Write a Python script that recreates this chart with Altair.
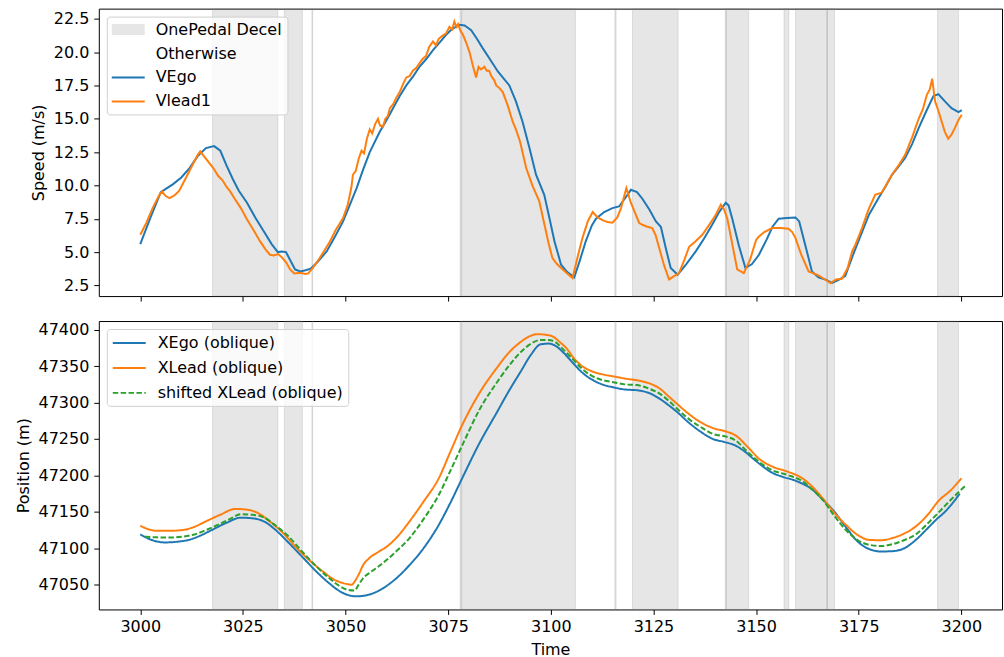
import altair as alt
import pandas as pd

# Windows flagged as one-pedal deceleration (s)
decel_start = [3017.6, 3035.1, 3041.8, 3077.9, 3078.3, 3115.6, 3119.9, 3142.5, 3142.8,
               3156.8, 3159.6, 3167.2, 3194.2]
decel_end = [3033.5, 3039.5, 3042.0, 3078.2, 3106.0, 3115.9, 3131.0, 3142.7, 3148.2,
             3158.0, 3167.4, 3169.1, 3199.3]

# Ego speed (m/s)
vego_t = [3000, 3002.5, 3005, 3006.5, 3008, 3010, 3012, 3014, 3016, 3018, 3019.5, 3021,
          3022.5, 3024, 3026, 3028, 3030, 3032, 3033.5, 3034.5, 3035.5, 3036.5, 3037.7,
          3039, 3040.5, 3041.5, 3043, 3045.4, 3047.5, 3049.4, 3051, 3052.7, 3054.3,
          3055.9, 3058.3, 3060, 3061.6, 3063.2, 3064.8, 3066.5, 3068, 3069.7, 3071.3,
          3073, 3074.5, 3076, 3077.8, 3079, 3080.6, 3082, 3083.4, 3085.1, 3087.1,
          3089.9, 3091.5, 3093.1, 3094.8, 3096.4, 3098.4, 3099.7, 3100.9, 3102.5, 3104,
          3105.7, 3107, 3108.5, 3110, 3111, 3113, 3115, 3116.6, 3118, 3119.5, 3121,
          3122.3, 3124, 3125.6, 3126.8, 3128, 3129.2, 3130.9, 3133, 3135.3, 3137.3,
          3139.3, 3141, 3142.6, 3143.3, 3144.2, 3145.8, 3147.4, 3149, 3150.7, 3152.5,
          3154, 3155.5, 3157.5, 3159.6, 3160.5, 3162, 3163.6, 3165.2, 3166.9, 3168.5,
          3170, 3171.7, 3173.5, 3175.8, 3177.5, 3179.8, 3181.5, 3183.1, 3184.7, 3186.3,
          3188, 3189.6, 3191.5, 3193.2, 3194.4, 3196, 3197.6, 3199.3, 3200.1]
vego_v = [5.6, 7.6, 9.5, 9.8, 10.1, 10.6, 11.3, 12.2, 12.8, 12.95, 12.6, 11.5,
          10.5, 9.6, 8.7, 7.6, 6.6, 5.6, 5.0, 5.05, 5.0, 4.4, 3.7,
          3.55, 3.65, 3.75, 4.2, 5.05, 6.2, 7.3, 8.5, 9.8, 11.2,
          12.5, 14.0, 14.9, 15.8, 16.7, 17.5, 18.2, 18.9, 19.5, 20.15,
          20.75, 21.3, 21.75, 22.05, 22.0, 21.65, 21.0, 20.3, 19.5, 18.55,
          17.5, 16.3, 14.8, 12.8, 10.8, 9.3, 7.5, 5.8, 4.05, 3.5,
          3.1, 4.3, 5.8, 7.0, 7.5, 8.0, 8.3, 8.42, 9.0, 9.67, 9.5,
          9.0, 8.2, 7.3, 6.9, 5.3, 3.8, 3.3, 4.1, 5.05, 6.0,
          7.05, 8.0, 8.7, 8.5, 7.5, 5.5, 3.8, 4.1, 4.8, 5.9,
          6.9, 7.5, 7.55, 7.6, 7.3, 5.5, 3.55, 3.1, 2.93, 2.68,
          2.9, 3.2, 4.7, 6.5, 7.8, 9.04, 9.9, 10.8, 11.4, 12.05,
          13.1, 14.3, 15.6, 16.7, 16.85, 16.3, 15.8, 15.5, 15.65]

# Lead vehicle speed (m/s)
vlead_t = [3000, 3001.5, 3003, 3004.5, 3005.3, 3006.2, 3007.1, 3008, 3008.5, 3009.5, 3011,
           3012.5, 3014, 3014.6, 3015.5, 3016.5, 3017.8, 3019, 3020, 3021, 3021.9, 3023,
           3024.5, 3025.9, 3027.5, 3029.2, 3030.5, 3031.6, 3032.5, 3033.6, 3034.5, 3035.6,
           3036.5, 3037.5, 3039, 3040.2, 3040.9, 3042, 3043.7, 3045, 3046.2, 3047.5,
           3049.4, 3050.5, 3051.4, 3051.8, 3052.5, 3053.2, 3053.9, 3054.5, 3055.2, 3055.9,
           3056.5, 3057.2, 3057.9, 3058.4, 3059.1, 3059.7, 3060.3, 3060.8, 3061.6, 3062.4,
           3063.2, 3064, 3064.8, 3065.6, 3066.4, 3067.2, 3068, 3068.8, 3069.6, 3070.4,
           3071.3, 3072, 3072.7, 3073.5, 3074.5, 3075.3, 3076, 3076.5, 3077.0, 3077.4,
           3078, 3078.6, 3079.4, 3080.2, 3081, 3081.8, 3082.4, 3083, 3083.8, 3084.4,
           3085, 3085.5, 3086.2, 3086.7, 3087.5, 3088.3, 3089.5, 3090.7, 3091.5, 3092.5,
           3094, 3095.5, 3097.2, 3098.5, 3099.5, 3100.4, 3101.5, 3102.5, 3104, 3105.3,
           3106.5, 3107.7, 3109, 3110.2, 3111.4, 3112.6, 3113.8, 3115, 3116.2, 3117.1,
           3118.4, 3119.5, 3120.7, 3121.5, 3122.3, 3123.5, 3124.7, 3125.5, 3126.4, 3127.6,
           3128.8, 3130, 3131.2, 3132.5, 3133.7, 3135.2, 3136.9, 3138.5, 3140, 3141.4,
           3142.2, 3143, 3144.2, 3145.4, 3147, 3148.5, 3150, 3150.7, 3152, 3153.9,
           3156, 3157.9, 3158.8, 3159.6, 3161, 3162.8, 3165.2, 3166.5, 3168.1, 3169.5,
           3170.9, 3172.3, 3173.4, 3174.2, 3175.8, 3177.4, 3179, 3180.6, 3181.8, 3183.1,
           3184.7, 3186.3, 3188, 3189.6, 3190.6, 3191.6, 3192.3, 3192.9, 3193.3, 3193.6,
           3194.4, 3195.2, 3196, 3196.8, 3197.6, 3198.4, 3199.3, 3200.1]
vlead_v = [6.3, 7.2, 8.3, 9.2, 9.55, 9.2, 9.05, 9.2, 9.3, 9.6, 10.5,
           11.4, 12.3, 12.55, 12.2, 11.8, 11.3, 10.7, 10.4, 9.9, 9.55, 9.0,
           8.3, 7.5, 6.7, 5.8, 5.2, 4.8, 4.75, 4.85, 4.6, 4.2,
           3.7, 3.4, 3.45, 3.35, 3.4, 3.8, 4.55, 5.2, 5.8, 6.6,
           7.55, 8.5, 9.8, 10.8, 11.1, 12.0, 12.6, 12.4, 13.5, 14.2,
           13.9, 14.6, 15.0, 14.5, 14.4, 15.0, 15.2, 15.8, 16.1, 16.6,
           17.0, 17.6, 18.1, 18.2, 18.6, 18.8, 19.15, 19.5, 19.7, 20.4,
           20.8, 20.5, 21.0, 21.2, 21.4, 21.9, 21.7, 22.3, 21.9, 22.1,
           21.6, 21.3, 20.7, 20.0, 19.0, 18.1, 18.9, 18.7, 18.9, 18.6,
           18.6, 18.2, 17.9, 17.5, 17.3, 17.0, 16.0, 14.8, 14.2, 13.3,
           11.3, 10.0, 8.8, 7.0, 5.6, 4.55, 4.1, 3.8, 3.4, 3.05,
           4.6, 6.05, 7.3, 8.0, 7.6, 7.4, 7.25, 7.2, 7.6, 8.3,
           9.8, 8.7, 7.8, 7.2, 7.05, 6.9, 6.8, 6.3, 5.3, 4.0,
           2.95, 3.2, 3.4, 4.4, 5.4, 5.8, 6.3, 7.0, 7.7, 8.55,
           8.2, 7.5, 5.6, 3.7, 3.42, 4.4, 5.9, 6.17, 6.5, 6.8,
           6.8, 6.75, 6.5, 6.05, 4.8, 3.55, 3.25, 3.0, 2.68, 2.95,
           3.0, 3.8, 5.05, 5.55, 6.8, 8.2, 9.3, 9.45, 10.1, 10.8,
           11.5, 12.3, 13.6, 15.0, 15.7, 16.8, 17.2, 18.0, 17.0, 16.3,
           15.6, 14.8, 14.0, 13.5, 13.8, 14.3, 14.9, 15.3]

# Ego position along the oblique axis (m)
xego_t = [3000, 3003, 3006, 3009, 3011.8, 3014.5, 3017.4, 3021, 3024.5, 3027.5, 3030.2,
          3033, 3035.9, 3039.5, 3042.9, 3045.8, 3048.6, 3050.5, 3052.6, 3055.5, 3058.5,
          3062, 3065.6, 3069, 3072.7, 3075.5, 3078.4, 3082.5, 3086.9, 3090, 3092.6,
          3095.2, 3097.5, 3099.5, 3101.1, 3103.2, 3105.3, 3107.5, 3109.6, 3112.5, 3115.2,
          3118, 3120.9, 3124, 3126.6, 3128.8, 3130.8, 3133.5, 3136.5, 3139.5, 3142.2,
          3145, 3147.2, 3149.3, 3151.5, 3153.5, 3156.5, 3159.2, 3161.5, 3163.4, 3166.2,
          3169.1, 3172, 3174.8, 3177.5, 3180.4, 3183.2, 3186.1, 3189, 3191.8, 3194,
          3196, 3198, 3199.6]
xego_x = [47119, 47111, 47108, 47109, 47111.5, 47117, 47125, 47135, 47142, 47141, 47136.6,
          47125, 47109, 47088, 47068, 47053, 47041, 47036, 47034, 47036, 47043,
          47057, 47077, 47100, 47132, 47162, 47196, 47243, 47287, 47318, 47342,
          47366, 47380, 47381, 47378, 47368, 47355, 47342, 47333, 47325, 47321,
          47318, 47317, 47313, 47305, 47296, 47287, 47273, 47260, 47250, 47246,
          47241, 47233, 47223, 47213, 47205, 47198, 47193.6, 47188, 47182, 47167,
          47150, 47128, 47109, 47099, 47095.6, 47096, 47100, 47112, 47127.5, 47140,
          47150, 47163, 47175]

# Lead position along the oblique axis (m)
xlead_t = [3000, 3002, 3004, 3007, 3010.3, 3013, 3016, 3019.5, 3023.1, 3026, 3028.8,
           3031.5, 3034.4, 3038, 3041.5, 3044.5, 3047.2, 3049.5, 3051.5, 3052.3, 3053.2,
           3054.3, 3055.7, 3058, 3060, 3062.8, 3065.6, 3069, 3072.7, 3075.5, 3078.4,
           3082.5, 3086.9, 3090, 3092.6, 3094.8, 3096.8, 3098.8, 3100.4, 3102.2, 3103.9,
           3105.6, 3107.4, 3110, 3112.4, 3115.2, 3118.1, 3121.6, 3124.2, 3126.6, 3128.8,
           3130.8, 3133.5, 3136.5, 3139.5, 3142.9, 3145, 3147.8, 3150.7, 3154, 3157.8,
           3161.3, 3163.8, 3166.3, 3169, 3171.9, 3174.8, 3177.6, 3180.5, 3183.2, 3186,
           3188.9, 3191.8, 3194.6, 3197.3, 3200]
xlead_x = [47131, 47126, 47124, 47124, 47125, 47129, 47137, 47146, 47154, 47153, 47148,
           47137, 47123, 47101, 47082, 47068, 47057, 47052, 47050, 47055, 47064,
           47077, 47086, 47095, 47102, 47117, 47137, 47164, 47196, 47232, 47269,
           47312, 47348, 47370, 47383, 47391, 47394, 47393, 47391, 47383, 47374,
           47361, 47351, 47343, 47339, 47336, 47333, 47330, 47326, 47319, 47308,
           47298, 47285, 47273, 47265, 47260, 47255, 47240, 47223, 47212, 47205,
           47196, 47184, 47168, 47149, 47132, 47118, 47111.5, 47111, 47114, 47120,
           47130, 47146, 47166, 47179, 47196]

# Lead position shifted in time (m)
xshift_t = [3001.1, 3004, 3007.5, 3010.5, 3013.2, 3016, 3018.9, 3021.8, 3024.5, 3027.3,
            3030.2, 3033, 3035.9, 3039.5, 3042.9, 3045.8, 3048.6, 3050.5, 3052.2, 3053.2,
            3054.3, 3056.3, 3058.5, 3062, 3065.6, 3069, 3072.7, 3075.5, 3078.4, 3082.5,
            3086.9, 3090, 3092.6, 3095.2, 3097.5, 3099.5, 3101.1, 3103.2, 3105.3, 3107.5,
            3109.6, 3112.5, 3115.2, 3118, 3120.9, 3124, 3126.6, 3128.8, 3130.8, 3133.5,
            3136.5, 3139.5, 3142.9, 3145, 3147.8, 3150.7, 3154, 3157.8, 3161.3, 3163.8,
            3166.3, 3169, 3171.9, 3174.8, 3177.6, 3180.5, 3183.2, 3186, 3188.9, 3191.8,
            3194.6, 3197.5, 3199.5, 3201]
xshift_x = [47116, 47115, 47114.7, 47116, 47119, 47125, 47132, 47140, 47146.6, 47146,
            47142, 47131, 47117.5, 47095, 47075, 47060, 47048, 47043, 47042, 47050,
            47059, 47068, 47077, 47094, 47114, 47140, 47173, 47206, 47241, 47289,
            47328, 47352, 47369, 47381, 47386, 47386, 47383, 47372, 47360, 47347,
            47338, 47331, 47328, 47325, 47324, 47319, 47312, 47302, 47291.5, 47278,
            47266.5, 47257, 47253, 47248, 47233, 47218.6, 47207, 47200.4, 47192, 47180,
            47166, 47145, 47125, 47111, 47104.7, 47103, 47105.6, 47111, 47119, 47134,
            47150, 47167, 47178, 47186]

FONT = "DejaVu Sans"
FS = 16
x_ticks = [3000, 3025, 3050, 3075, 3100, 3125, 3150, 3175, 3200]
speed_ticks = [2.5, 5.0, 7.5, 10.0, 12.5, 15.0, 17.5, 20.0, 22.5]
pos_ticks = [47050, 47100, 47150, 47200, 47250, 47300, 47350, 47400]

spans = pd.DataFrame({"start": decel_start, "end": decel_end})
speed = pd.DataFrame({
    "t": vego_t + vlead_t,
    "v": vego_v + vlead_v,
    "trace": ["VEgo"] * len(vego_t) + ["Vlead1"] * len(vlead_t),
})
pos_names = ["XEgo (oblique)", "XLead (oblique)", "shifted XLead (oblique)"]
position = pd.DataFrame({
    "t": xego_t + xlead_t + xshift_t,
    "x": xego_x + xlead_x + xshift_x,
    "trace": [pos_names[0]] * len(xego_t) + [pos_names[1]] * len(xlead_t)
             + [pos_names[2]] * len(xshift_t),
})

# Legend glyphs (unit = 8 px at symbolSize 256): patch for spans, bar / stroke for lines
RECT_SYM = "M-1,-0.69H3.125V0.69H-1Z"
BAR_SYM = "M-1,-0.125H3.125V0.125H-1Z"
STROKE_SYM = "M-1,0H3.125"

speed_keys = ["OnePedal Decel", "Otherwise", "VEgo", "Vlead1"]
speed_colors = ["#e6e6e6", "#ffffff", "#1f77b4", "#ff7f0e"]
speed_shapes = [RECT_SYM, RECT_SYM, BAR_SYM, BAR_SYM]
key_df = pd.DataFrame({"key": speed_keys})

legend_style = dict(
    title=None, orient="top-left", offset=8, padding=5,
    fillColor="rgba(255,255,255,0.8)", strokeColor="#d0d0d0", cornerRadius=3,
    labelFont=FONT, labelFontSize=FS, labelColor="black", labelLimit=400,
    symbolSize=256, rowPadding=8, labelOffset=28,
)

x_scale = alt.Scale(domain=[2989.9, 3209.9], nice=False, zero=False)


def x_axis(with_labels):
    if with_labels:
        return alt.Axis(values=x_ticks, format="d", title="Time", labelFlush=False,
                        labelPadding=4, titlePadding=7)
    return alt.Axis(values=x_ticks, labels=False, title=None)


def span_layer(with_labels):
    return alt.Chart(spans).mark_rect(
        fill="#808080", fillOpacity=0.2, stroke="#808080", strokeOpacity=0.2, strokeWidth=1
    ).encode(
        x=alt.X("start:Q", scale=x_scale, axis=x_axis(with_labels)),
        x2="end:Q",
    )


# Speed traces use the stroke channel; the legend comes from the key layer below
speed_lines = alt.Chart(speed).mark_line(strokeWidth=2).encode(
    x=alt.X("t:Q", scale=x_scale, axis=x_axis(False)),
    y=alt.Y("v:Q", scale=alt.Scale(domain=[1.70, 23.26], nice=False, zero=False),
            axis=alt.Axis(values=speed_ticks, format=".1f", title="Speed (m/s)")),
    stroke=alt.Stroke("trace:N", scale=alt.Scale(domain=["VEgo", "Vlead1"],
                                                 range=["#1f77b4", "#ff7f0e"]),
                      legend=None),
)

speed_key = alt.Chart(key_df).transform_filter("false").mark_point(
    filled=True, opacity=1
).encode(
    fill=alt.Fill("key:N", scale=alt.Scale(domain=speed_keys, range=speed_colors),
                  legend=alt.Legend(symbolStrokeWidth=0, **legend_style)),
    shape=alt.Shape("key:N", scale=alt.Scale(domain=speed_keys, range=speed_shapes),
                    legend=alt.Legend(symbolStrokeWidth=0, **legend_style)),
)

top = alt.layer(span_layer(False), speed_lines, speed_key).properties(width=905, height=288)

pos_legend = alt.Legend(symbolType=STROKE_SYM, symbolStrokeWidth=2, **legend_style)
pos_lines = alt.Chart(position).mark_line(strokeWidth=2, interpolate="monotone").encode(
    x=alt.X("t:Q", scale=x_scale, axis=x_axis(True)),
    y=alt.Y("x:Q", scale=alt.Scale(domain=[47016, 47412], nice=False, zero=False),
            axis=alt.Axis(values=pos_ticks, format="d", title="Position (m)")),
    color=alt.Color("trace:N", scale=alt.Scale(domain=pos_names,
                                               range=["#1f77b4", "#ff7f0e", "#2ca02c"]),
                    legend=pos_legend),
    strokeDash=alt.StrokeDash("trace:N", scale=alt.Scale(domain=pos_names,
                                                         range=[[1, 0], [1, 0], [5.5, 2.4]]),
                              legend=pos_legend),
)

bottom = alt.layer(span_layer(True), pos_lines).properties(width=905, height=289)

chart = alt.vconcat(top, bottom, spacing=18).resolve_scale(
    color="independent", shape="independent", strokeDash="independent",
    fill="independent", stroke="independent"
).properties(
    padding={"left": 14, "top": 7, "right": 1, "bottom": 1}
).configure_view(
    stroke="black", strokeWidth=1
).configure_axis(
    labelFont=FONT, labelFontSize=FS, labelColor="black",
    titleFont=FONT, titleFontSize=FS, titleFontWeight="normal", titleColor="black",
    tickColor="black", tickSize=5, labelPadding=5, titlePadding=7,
    domain=False, grid=False,
)

chart.save("out.html", embed_options={"renderer": "svg", "actions": False})
